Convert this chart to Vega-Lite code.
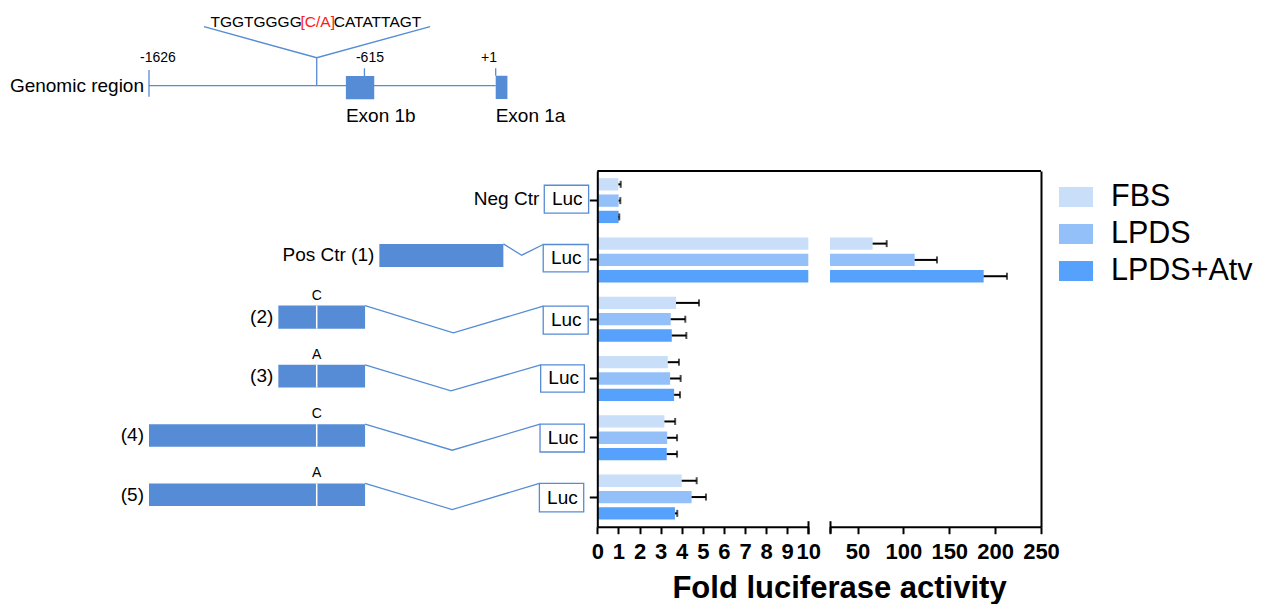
{
  "$schema": "https://vega.github.io/schema/vega-lite/v6.json",
  "width": 1265,
  "height": 604,
  "autosize": {"type": "none"},
  "padding": 0,
  "background": "white",
  "config": {"view": {"stroke": null}, "font": "Liberation Sans", "axis": {"grid": false}},
  "datasets": {
    "luc": [
      {"construct": "Neg Ctr", "condition": "FBS", "value": 1.0, "upper": 1.11},
      {"construct": "Neg Ctr", "condition": "LPDS", "value": 1.01, "upper": 1.09},
      {"construct": "Neg Ctr", "condition": "LPDS+Atv", "value": 1.01, "upper": 1.04},
      {"construct": "Pos Ctr (1)", "condition": "FBS", "value": 66.5, "upper": 81.8},
      {"construct": "Pos Ctr (1)", "condition": "LPDS", "value": 112.3, "upper": 136.6},
      {"construct": "Pos Ctr (1)", "condition": "LPDS+Atv", "value": 187.5, "upper": 212.9},
      {"construct": "(2)", "condition": "FBS", "value": 3.73, "upper": 4.82},
      {"construct": "(2)", "condition": "LPDS", "value": 3.48, "upper": 4.17},
      {"construct": "(2)", "condition": "LPDS+Atv", "value": 3.53, "upper": 4.22},
      {"construct": "(3)", "condition": "FBS", "value": 3.34, "upper": 3.87},
      {"construct": "(3)", "condition": "LPDS", "value": 3.45, "upper": 3.95},
      {"construct": "(3)", "condition": "LPDS+Atv", "value": 3.64, "upper": 3.92},
      {"construct": "(4)", "condition": "FBS", "value": 3.18, "upper": 3.69},
      {"construct": "(4)", "condition": "LPDS", "value": 3.31, "upper": 3.78},
      {"construct": "(4)", "condition": "LPDS+Atv", "value": 3.29, "upper": 3.78},
      {"construct": "(5)", "condition": "FBS", "value": 4.0, "upper": 4.71},
      {"construct": "(5)", "condition": "LPDS", "value": 4.47, "upper": 5.15},
      {"construct": "(5)", "condition": "LPDS+Atv", "value": 3.68, "upper": 3.79}
    ],
    "constructs": [
      {"construct": "Neg Ctr", "label": "Neg Ctr", "labelX": 229, "labelY": -0.03, "lucStart": 229, "lucEnd": 437, "lucTop": -0.26, "lucBottom": 0.21, "lucY": -0.025},
      {"construct": "Pos Ctr (1)", "label": "Pos Ctr (1)", "labelX": -545, "labelY": 0.92, "boxStart": -545, "boxEnd": 37, "boxTop": 0.73, "boxBottom": 1.12, "lucStart": 224, "lucEnd": 435, "lucTop": 0.74, "lucBottom": 1.2, "lucY": 0.97},
      {"construct": "(2)", "label": "(2)", "labelX": -1019, "labelY": 1.96, "boxStart": -1019, "boxEnd": -612, "boxTop": 1.77, "boxBottom": 2.16, "snp": -839, "allele": "C", "lucStart": 224, "lucEnd": 435, "lucTop": 1.78, "lucBottom": 2.25, "lucY": 2.02},
      {"construct": "(3)", "label": "(3)", "labelX": -1019, "labelY": 2.95, "boxStart": -1019, "boxEnd": -612, "boxTop": 2.77, "boxBottom": 3.15, "snp": -839, "allele": "A", "lucStart": 212, "lucEnd": 417, "lucTop": 2.77, "lucBottom": 3.23, "lucY": 3.0},
      {"construct": "(4)", "label": "(4)", "labelX": -1626, "labelY": 3.96, "boxStart": -1626, "boxEnd": -612, "boxTop": 3.77, "boxBottom": 4.15, "snp": -839, "allele": "C", "lucStart": 209, "lucEnd": 417, "lucTop": 3.77, "lucBottom": 4.24, "lucY": 4.0},
      {"construct": "(5)", "label": "(5)", "labelX": -1626, "labelY": 4.96, "boxStart": -1626, "boxEnd": -612, "boxTop": 4.77, "boxBottom": 5.15, "snp": -839, "allele": "A", "lucStart": 206, "lucEnd": 414, "lucTop": 4.77, "lucBottom": 5.25, "lucY": 5.01}
    ],
    "links": [
      {"construct": "Pos Ctr (1)", "i": 0, "x": 37, "y": 0.73},
      {"construct": "Pos Ctr (1)", "i": 1, "x": 123, "y": 0.92},
      {"construct": "Pos Ctr (1)", "i": 2, "x": 224, "y": 0.74},
      {"construct": "(2)", "i": 0, "x": -612, "y": 1.77},
      {"construct": "(2)", "i": 1, "x": -198, "y": 2.23},
      {"construct": "(2)", "i": 2, "x": 224, "y": 1.78},
      {"construct": "(3)", "i": 0, "x": -612, "y": 2.77},
      {"construct": "(3)", "i": 1, "x": -209, "y": 3.21},
      {"construct": "(3)", "i": 2, "x": 212, "y": 2.77},
      {"construct": "(4)", "i": 0, "x": -612, "y": 3.77},
      {"construct": "(4)", "i": 1, "x": -203, "y": 4.21},
      {"construct": "(4)", "i": 2, "x": 209, "y": 3.77},
      {"construct": "(5)", "i": 0, "x": -612, "y": 4.77},
      {"construct": "(5)", "i": 1, "x": -203, "y": 5.21},
      {"construct": "(5)", "i": 2, "x": 206, "y": 4.77}
    ]
  },
  "resolve": {"scale": {"x": "independent", "y": "independent"}, "axis": {"x": "independent", "y": "independent"}},
  "layer": [
    {
      "data": {"name": "luc"},
      "encoding": {
        "y": {"field": "construct", "type": "nominal", "scale": {"domain": ["Neg Ctr", "Pos Ctr (1)", "(2)", "(3)", "(4)", "(5)"], "range": [171, 526.7], "paddingInner": 0, "paddingOuter": 0},
          "axis": {"orient": "left", "offset": -597.3, "labels": false, "title": null, "tickSize": 8, "tickWidth": 2, "tickColor": "black", "domainColor": "black", "domainWidth": 2, "grid": false, "zindex": 1}},
        "yOffset": {"field": "condition", "type": "nominal", "scale": {"domain": ["FBS", "LPDS", "LPDS+Atv"], "paddingInner": 0.245, "paddingOuter": 0.44}}
      },
      "layer": [
        {
          "mark": {"type": "bar"},
          "encoding": {
            "x": {"field": "value", "type": "quantitative", "scale": {"domain": [0, 10], "range": [597.3, 808.3], "clamp": true, "nice": false, "zero": false},
              "axis": {"orient": "bottom", "offset": -77.3, "values": [0, 1, 2, 3, 4, 5, 6, 7, 8, 9, 10], "format": "d", "labelFontSize": 22, "labelFontWeight": "bold", "labelFont": "Liberation Sans", "labelColor": "black", "labelFlush": false, "labelOverlap": false, "labelPadding": 8, "tickSize": 7, "tickWidth": 2, "tickColor": "black", "domainColor": "black", "domainWidth": 2, "grid": false, "zindex": 1,
                "title": "Fold luciferase activity", "titleFont": "Liberation Sans", "titleFontSize": 31, "titleFontWeight": "bold", "titleColor": "black", "titleX": 839, "titleY": 61.5, "titleAlign": "center", "titleBaseline": "middle"}},
            "x2": {"datum": 0},
            "color": {"field": "condition", "type": "nominal", "scale": {"domain": ["FBS", "LPDS", "LPDS+Atv"], "range": ["#C9DEF8", "#93C0F9", "#56A1FB"]},
              "legend": {"orient": "none", "legendX": 1059, "legendY": 180, "title": null, "symbolType": "M-1,-0.59H1V0.59H-1Z", "symbolSize": 1156, "symbolStrokeWidth": 0, "labelFontSize": 30.5, "labelFont": "Liberation Sans", "labelColor": "black", "labelOffset": 18, "rowPadding": 4, "padding": 0}}
          }
        },
        {
          "transform": [{"filter": "datum.upper <= 10"}],
          "mark": {"type": "rule", "color": "black", "strokeWidth": 2},
          "encoding": {"x": {"field": "value", "type": "quantitative"}, "x2": {"field": "upper"}}
        },
        {
          "transform": [{"filter": "datum.upper <= 10"}],
          "mark": {"type": "tick", "color": "black", "thickness": 2, "size": 7, "orient": "vertical"},
          "encoding": {"x": {"field": "upper", "type": "quantitative"}}
        }
      ]
    },
    {
      "data": {"name": "luc"},
      "transform": [{"filter": "datum.value > 20"}],
      "encoding": {
        "y": {"field": "construct", "type": "nominal", "scale": {"domain": ["Neg Ctr", "Pos Ctr (1)", "(2)", "(3)", "(4)", "(5)"], "range": [171, 526.7], "paddingInner": 0, "paddingOuter": 0},
          "axis": {"orient": "right", "offset": -224, "labels": false, "ticks": false, "title": null, "domainColor": "black", "domainWidth": 2, "grid": false, "zindex": 1}},
        "yOffset": {"field": "condition", "type": "nominal", "scale": {"domain": ["FBS", "LPDS", "LPDS+Atv"], "paddingInner": 0.245, "paddingOuter": 0.44}}
      },
      "layer": [
        {
          "mark": {"type": "bar"},
          "encoding": {
            "x": {"field": "value", "type": "quantitative", "scale": {"domain": [20, 250], "range": [830, 1041], "nice": false, "zero": false},
              "axis": {"orient": "bottom", "offset": -77.3, "values": [20, 50, 100, 150, 200, 250], "labelExpr": "datum.value == 20 ? '' : datum.label", "labelFontSize": 22, "labelFontWeight": "bold", "labelFont": "Liberation Sans", "labelColor": "black", "labelFlush": false, "labelOverlap": false, "labelPadding": 8, "tickSize": 7, "tickWidth": 2, "tickColor": "black", "domainColor": "black", "domainWidth": 2, "grid": false, "zindex": 1, "title": null}},
            "x2": {"datum": 20},
            "color": {"field": "condition", "type": "nominal"}
          }
        },
        {
          "mark": {"type": "rule", "color": "black", "strokeWidth": 2},
          "encoding": {"x": {"field": "value", "type": "quantitative"}, "x2": {"field": "upper"}}
        },
        {
          "mark": {"type": "tick", "color": "black", "thickness": 2, "size": 7, "orient": "vertical"},
          "encoding": {"x": {"field": "upper", "type": "quantitative"}}
        }
      ]
    },
    {
      "data": {"values": [{}]},
      "mark": {"type": "rule", "color": "black", "strokeWidth": 2},
      "encoding": {
        "x": {"datum": 0, "type": "quantitative", "scale": {"domain": [0, 1], "range": [597.3, 1041]}, "axis": null},
        "x2": {"datum": 1},
        "y": {"datum": 1, "type": "quantitative", "scale": {"domain": [0, 1], "range": [526.7, 171]}, "axis": null}
      }
    },
    {
      "data": {"values": [{}]},
      "mark": {"type": "rule", "opacity": 0},
      "encoding": {
        "x": {"datum": 10, "type": "quantitative", "scale": {"domain": [0, 10], "range": [597.3, 808.3]},
          "axis": {"orient": "bottom", "offset": -83.3, "values": [10], "labels": false, "domain": false, "tickSize": 13, "tickWidth": 2, "tickColor": "black", "title": null, "grid": false}}
      }
    },
    {
      "data": {"values": [{}]},
      "mark": {"type": "rule", "opacity": 0},
      "encoding": {
        "x": {"datum": 20, "type": "quantitative", "scale": {"domain": [20, 250], "range": [830, 1041]},
          "axis": {"orient": "bottom", "offset": -83.3, "values": [20], "labels": false, "domain": false, "tickSize": 12, "tickWidth": 2, "tickColor": "black", "title": null, "grid": false}}
      }
    },
    {
      "data": {"name": "constructs"},
      "layer": [
        {
          "transform": [{"filter": "isValid(datum.boxStart)"}],
          "mark": {"type": "rect", "color": "#568CD5"},
          "encoding": {
            "x": {"field": "boxStart", "type": "quantitative", "scale": {"domain": [-1626, 1], "range": [149, 495.7], "nice": false, "zero": false}, "axis": null},
            "x2": {"field": "boxEnd"},
            "y": {"field": "boxTop", "type": "quantitative", "scale": {"domain": [-0.5, 5.5], "range": [171, 526.7], "nice": false, "zero": false}, "axis": null},
            "y2": {"field": "boxBottom"}
          }
        },
        {
          "transform": [{"filter": "isValid(datum.snp)"}],
          "mark": {"type": "rule", "color": "white", "strokeWidth": 1.5},
          "encoding": {
            "x": {"field": "snp", "type": "quantitative", "scale": {"domain": [-1626, 1], "range": [149, 495.7], "nice": false, "zero": false}, "axis": null},
            "y": {"field": "boxTop", "type": "quantitative", "scale": {"domain": [-0.5, 5.5], "range": [171, 526.7], "nice": false, "zero": false}, "axis": null},
            "y2": {"field": "boxBottom"}
          }
        },
        {
          "transform": [{"filter": "isValid(datum.snp)"}],
          "mark": {"type": "text", "fontSize": 14, "baseline": "bottom", "dy": -3, "color": "black", "font": "Liberation Sans"},
          "encoding": {
            "x": {"field": "snp", "type": "quantitative", "scale": {"domain": [-1626, 1], "range": [149, 495.7], "nice": false, "zero": false}, "axis": null},
            "y": {"field": "boxTop", "type": "quantitative", "scale": {"domain": [-0.5, 5.5], "range": [171, 526.7], "nice": false, "zero": false}, "axis": null},
            "text": {"field": "allele"}
          }
        },
        {
          "mark": {"type": "rect", "fill": "white", "stroke": "#568CD5", "strokeWidth": 1.3},
          "encoding": {
            "x": {"field": "lucStart", "type": "quantitative", "scale": {"domain": [-1626, 1], "range": [149, 495.7], "nice": false, "zero": false}, "axis": null},
            "x2": {"field": "lucEnd"},
            "y": {"field": "lucTop", "type": "quantitative", "scale": {"domain": [-0.5, 5.5], "range": [171, 526.7], "nice": false, "zero": false}, "axis": null},
            "y2": {"field": "lucBottom"}
          }
        },
        {
          "mark": {"type": "text", "fontSize": 19, "align": "center", "baseline": "middle", "dx": 23, "color": "black", "font": "Liberation Sans"},
          "encoding": {
            "x": {"field": "lucStart", "type": "quantitative", "scale": {"domain": [-1626, 1], "range": [149, 495.7], "nice": false, "zero": false}, "axis": null},
            "y": {"field": "lucY", "type": "quantitative", "scale": {"domain": [-0.5, 5.5], "range": [171, 526.7], "nice": false, "zero": false}, "axis": null},
            "text": {"value": "Luc"}
          }
        },
        {
          "mark": {"type": "text", "fontSize": 19, "align": "right", "baseline": "middle", "dx": -5, "color": "black", "font": "Liberation Sans"},
          "encoding": {
            "x": {"field": "labelX", "type": "quantitative", "scale": {"domain": [-1626, 1], "range": [149, 495.7], "nice": false, "zero": false}, "axis": null},
            "y": {"field": "labelY", "type": "quantitative", "scale": {"domain": [-0.5, 5.5], "range": [171, 526.7], "nice": false, "zero": false}, "axis": null},
            "text": {"field": "label"}
          }
        },
        {
          "data": {"name": "links"},
          "mark": {"type": "line", "color": "#568CD5", "strokeWidth": 1.3},
          "encoding": {
            "x": {"field": "x", "type": "quantitative", "scale": {"domain": [-1626, 1], "range": [149, 495.7], "nice": false, "zero": false}, "axis": null},
            "y": {"field": "y", "type": "quantitative", "scale": {"domain": [-0.5, 5.5], "range": [171, 526.7], "nice": false, "zero": false}, "axis": null},
            "detail": {"field": "construct"},
            "order": {"field": "i"}
          }
        }
      ]
    },
    {
      "layer": [
        {
          "data": {"values": [{"from": -1626, "to": 1, "level": 0}]},
          "mark": {"type": "rule", "color": "#568CD5", "strokeWidth": 1.3},
          "encoding": {
            "x": {"field": "from", "type": "quantitative", "scale": {"domain": [-1626, 1], "range": [149, 495.7], "nice": false, "zero": false}, "axis": null},
            "x2": {"field": "to"},
            "y": {"field": "level", "type": "quantitative", "scale": {"domain": [-3, 7], "range": [120.8, 3.8], "nice": false, "zero": false}, "axis": null}
          }
        },
        {
          "data": {"values": [{"pos": -1626, "low": -0.94, "high": 1.34}, {"pos": -615, "low": 0.83, "high": 1.49}, {"pos": 1, "low": 0.85, "high": 1.49}, {"pos": -839, "low": 0, "high": 2.39}]},
          "mark": {"type": "rule", "color": "#568CD5", "strokeWidth": 1.3},
          "encoding": {
            "x": {"field": "pos", "type": "quantitative", "scale": {"domain": [-1626, 1], "range": [149, 495.7], "nice": false, "zero": false}, "axis": null},
            "y": {"field": "low", "type": "quantitative", "scale": {"domain": [-3, 7], "range": [120.8, 3.8], "nice": false, "zero": false}, "axis": null},
            "y2": {"field": "high"}
          }
        },
        {
          "data": {"values": [{"name": "Exon 1b", "start": -702, "end": -569, "bottom": -1.16, "top": 0.83}, {"name": "Exon 1a", "start": 1, "end": 56, "bottom": -1.14, "top": 0.85}]},
          "layer": [
            {
              "mark": {"type": "rect", "color": "#568CD5"},
              "encoding": {
                "x": {"field": "start", "type": "quantitative", "scale": {"domain": [-1626, 1], "range": [149, 495.7], "nice": false, "zero": false}, "axis": null},
                "x2": {"field": "end"},
                "y": {"field": "bottom", "type": "quantitative", "scale": {"domain": [-3, 7], "range": [120.8, 3.8], "nice": false, "zero": false}, "axis": null},
                "y2": {"field": "top"}
              }
            },
            {
              "mark": {"type": "text", "fontSize": 19, "align": "left", "baseline": "top", "dy": 8, "color": "black", "font": "Liberation Sans"},
              "encoding": {
                "x": {"field": "start", "type": "quantitative", "scale": {"domain": [-1626, 1], "range": [149, 495.7], "nice": false, "zero": false}, "axis": null},
                "y": {"field": "bottom", "type": "quantitative", "scale": {"domain": [-3, 7], "range": [120.8, 3.8], "nice": false, "zero": false}, "axis": null},
                "text": {"field": "name"}
              }
            }
          ]
        },
        {
          "data": {"values": [{"text": "-1626", "x": -1584, "y": 2.34}, {"text": "-615", "x": -589, "y": 2.34}, {"text": "+1", "x": -30, "y": 2.34}]},
          "mark": {"type": "text", "fontSize": 14, "align": "center", "baseline": "middle", "color": "black", "font": "Liberation Sans"},
          "encoding": {
            "x": {"field": "x", "type": "quantitative", "scale": {"domain": [-1626, 1], "range": [149, 495.7], "nice": false, "zero": false}, "axis": null},
            "y": {"field": "y", "type": "quantitative", "scale": {"domain": [-3, 7], "range": [120.8, 3.8], "nice": false, "zero": false}, "axis": null},
            "text": {"field": "text"}
          }
        },
        {
          "data": {"values": [{"x": -1368, "y": 5.04, "i": 0}, {"x": -839, "y": 2.39, "i": 1}, {"x": -307, "y": 5.04, "i": 2}]},
          "mark": {"type": "line", "color": "#568CD5", "strokeWidth": 1.3},
          "encoding": {
            "x": {"field": "x", "type": "quantitative", "scale": {"domain": [-1626, 1], "range": [149, 495.7], "nice": false, "zero": false}, "axis": null},
            "y": {"field": "y", "type": "quantitative", "scale": {"domain": [-3, 7], "range": [120.8, 3.8], "nice": false, "zero": false}, "axis": null},
            "order": {"field": "i"}
          }
        },
        {
          "data": {"values": [{"text": "Genomic region", "x": -1626, "y": 0}]},
          "mark": {"type": "text", "fontSize": 19, "align": "right", "baseline": "middle", "dx": -5, "color": "black", "font": "Liberation Sans"},
          "encoding": {
            "x": {"field": "x", "type": "quantitative", "scale": {"domain": [-1626, 1], "range": [149, 495.7], "nice": false, "zero": false}, "axis": null},
            "y": {"field": "y", "type": "quantitative", "scale": {"domain": [-3, 7], "range": [120.8, 3.8], "nice": false, "zero": false}, "axis": null},
            "text": {"field": "text"}
          }
        },
        {
          "data": {"values": [{"text": "TGGTGGGG", "x": -839, "y": 5.47}]},
          "mark": {"type": "text", "fontSize": 15.5, "align": "right", "baseline": "middle", "dx": -15, "color": "black", "font": "Liberation Sans"},
          "encoding": {
            "x": {"field": "x", "type": "quantitative", "scale": {"domain": [-1626, 1], "range": [149, 495.7], "nice": false, "zero": false}, "axis": null},
            "y": {"field": "y", "type": "quantitative", "scale": {"domain": [-3, 7], "range": [120.8, 3.8], "nice": false, "zero": false}, "axis": null},
            "text": {"field": "text"}
          }
        },
        {
          "data": {"values": [{"text": "[C/A]", "x": -839, "y": 5.47}]},
          "mark": {"type": "text", "fontSize": 15.5, "align": "center", "baseline": "middle", "dx": 1, "color": "#FF1A1A", "font": "Liberation Sans"},
          "encoding": {
            "x": {"field": "x", "type": "quantitative", "scale": {"domain": [-1626, 1], "range": [149, 495.7], "nice": false, "zero": false}, "axis": null},
            "y": {"field": "y", "type": "quantitative", "scale": {"domain": [-3, 7], "range": [120.8, 3.8], "nice": false, "zero": false}, "axis": null},
            "text": {"field": "text"}
          }
        },
        {
          "data": {"values": [{"text": "CATATTAGT", "x": -839, "y": 5.47}]},
          "mark": {"type": "text", "fontSize": 15.5, "align": "left", "baseline": "middle", "dx": 17, "color": "black", "font": "Liberation Sans"},
          "encoding": {
            "x": {"field": "x", "type": "quantitative", "scale": {"domain": [-1626, 1], "range": [149, 495.7], "nice": false, "zero": false}, "axis": null},
            "y": {"field": "y", "type": "quantitative", "scale": {"domain": [-3, 7], "range": [120.8, 3.8], "nice": false, "zero": false}, "axis": null},
            "text": {"field": "text"}
          }
        }
      ]
    }
  ]
}
